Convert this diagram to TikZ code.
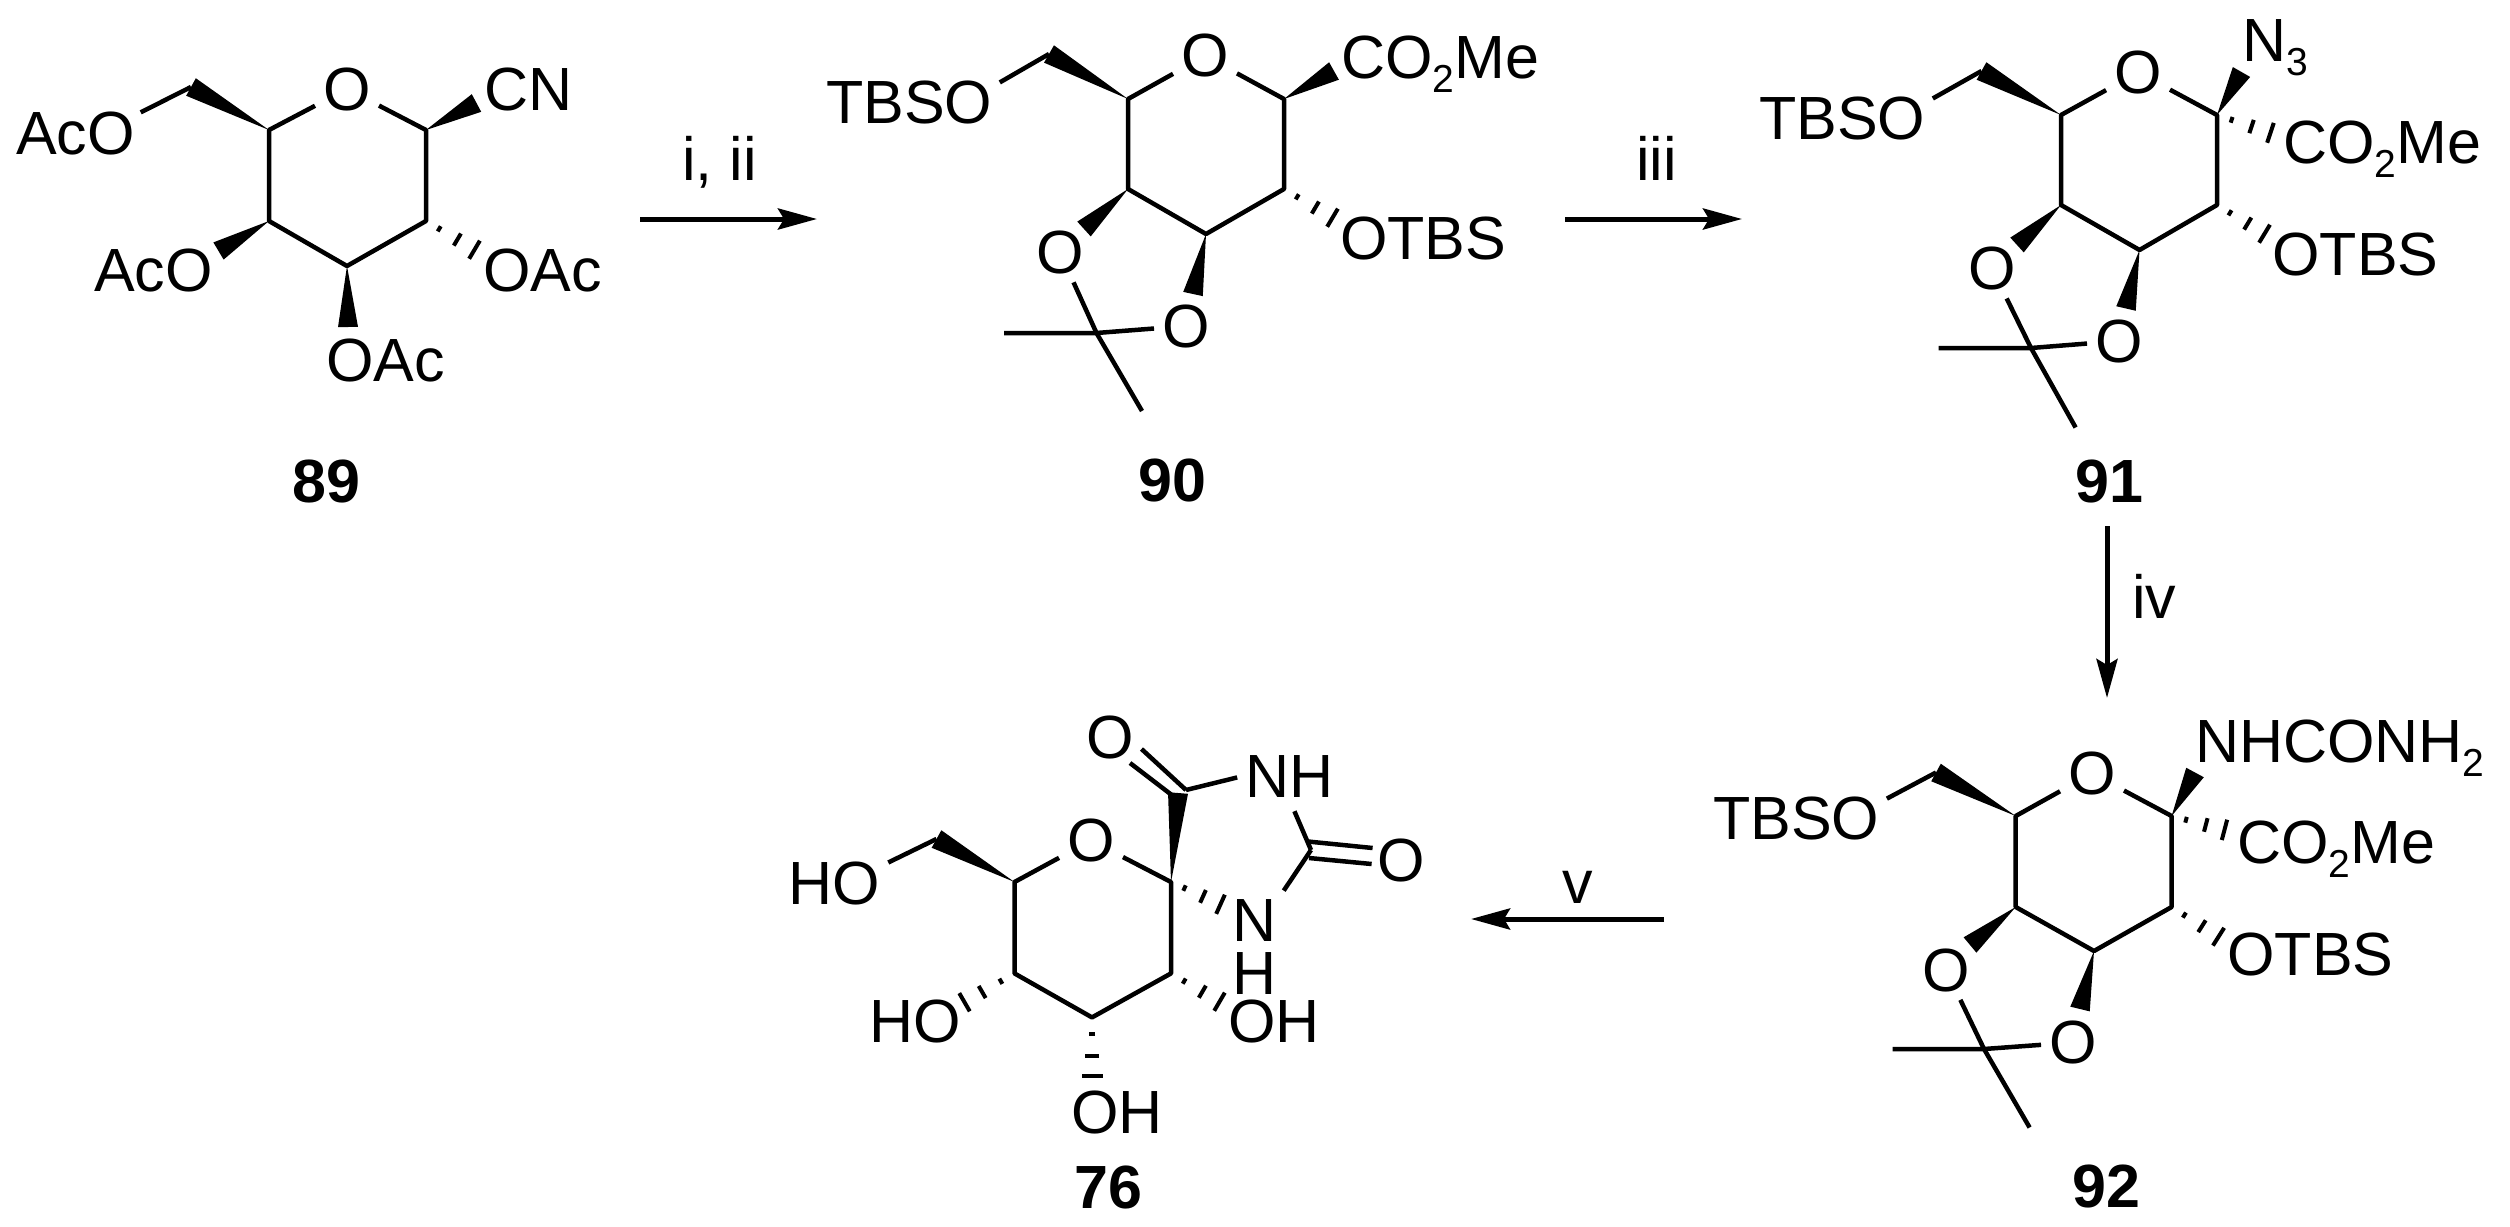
\documentclass[tikz,border=0pt]{standalone}
\usepackage{fontspec}
\setmainfont{Liberation Sans}
\usetikzlibrary{arrows.meta,calc}

\newcommand{\lowidx}[1]{\raisebox{-14.5pt}{\fontsize{39}{39}\selectfont #1}}
\newcommand{\wedgebond}[2]{\fill (#1) -- ($(#2)!10pt!90:(#1)$) -- ($(#2)!10pt!-90:(#1)$) -- cycle;}
\newcommand{\hashbond}[2]{\foreach \p/\w in {.27/3,.64/7,.99/10.5}
	\draw[line width=4pt] ($(#1)!\p!(#2)!\w pt!90:(#2)$) -- ($(#1)!\p!(#2)!\w pt!-90:(#2)$);}

\tikzset{
	lbl/.style={font=\fontsize{61}{53}\selectfont, inner sep=0pt, anchor=base west},
	num/.style={font=\fontsize{61}{53}\selectfont\bfseries, inner sep=0pt, anchor=base west},
	atomO/.style={font=\fontsize{61}{53}\selectfont, inner sep=6pt},
	rxn/.style={line width=5pt, -{Stealth[length=39pt,width=21pt,inset=6pt]}},
}

\begin{document}
\begin{tikzpicture}[x=1pt,y=-1pt,line width=4.5pt,line join=round]
	\useasboundingbox (0,0) rectangle (2510,1226);

	\draw (347,89) node[atomO] (oa) {O};
	\coordinate (a1) at (426,130);
	\coordinate (a2) at (426,221);
	\coordinate (a3) at (347,266);
	\coordinate (a4) at (269,221);
	\coordinate (a5) at (269,130);
	\coordinate (a6) at (191,87);
	\coordinate (a7) at (476.5,103);
	\coordinate (a8) at (218.5,251);
	\coordinate (a9) at (348,327);
	\coordinate (a10) at (475,250);
	\draw (14,154) node[lbl] (aco1) {AcO};
	\draw (482,110) node[lbl] (cn) {CN};
	\draw (481,291) node[lbl] (aco2) {OAc};
	\draw (92,291) node[lbl] (aco3) {AcO};
	\draw (324,381) node[lbl] (aco4) {OAc};
	\draw (290,502) node[num] (n89) {89};
	\draw (oa) -- (a1) -- (a2) -- (a3) -- (a4) -- (a5) -- (oa);
	\wedgebond{a5}{a6}
	\wedgebond{a1}{a7}
	\wedgebond{a4}{a8}
	\wedgebond{a3}{a9}
	\hashbond{a2}{a10}
	\draw[shorten >=4pt] (a6) -- (aco1.17);

	\coordinate (s1) at (640,219);
	\coordinate (s2) at (817,219);
	\draw[rxn] (s1) -- (s2);
	\draw (680,180) node[lbl] (r1) {i, ii};

	\draw (1205,56) node[atomO] (ob) {O};
	\coordinate (b1) at (1284,99);
	\coordinate (b2) at (1284,189);
	\coordinate (b3) at (1206,234);
	\coordinate (b4) at (1128,189);
	\coordinate (b5) at (1128,99);
	\coordinate (b6) at (1049,54);
	\coordinate (b7) at (1334,71);
	\coordinate (b8) at (1084,229);
	\coordinate (b9) at (1193,294);
	\coordinate (b10) at (1333,218);
	\coordinate (b11) at (1096.5,333);
	\coordinate (b12) at (1004,333);
	\coordinate (b13) at (1142,411);
	\draw (1060,252.5) node[atomO] (ob1) {O};
	\draw (1186,326) node[atomO] (ob2) {O};
	\draw (824,123) node[lbl] (tbs1) {TBSO};
	\draw (1339,78) node[lbl] (est1) {CO\lowidx{2}Me};
	\draw (1338,259) node[lbl] (tbs2) {OTBS};
	\draw (1136,501) node[num] (n90) {90};
	\draw (ob) -- (b1) -- (b2) -- (b3) -- (b4) -- (b5) -- (ob);
	\wedgebond{b5}{b6}
	\wedgebond{b1}{b7}
	\wedgebond{b4}{b8}
	\wedgebond{b3}{b9}
	\hashbond{b2}{b10}
	\draw[shorten >=6pt] (b6) -- (tbs1.11);
	\draw (ob1) -- (b11) -- (b13);
	\draw (b12) -- (b11) -- (ob2);

	\coordinate (s3) at (1565,219);
	\coordinate (s4) at (1742,219);
	\draw[rxn] (s3) -- (s4);
	\draw (1634,180) node[lbl] (r2) {iii};

	\draw (2138,72.5) node[atomO] (oc) {O};
	\coordinate (c1) at (2217,115);
	\coordinate (c2) at (2217,205);
	\coordinate (c3) at (2139.5,250);
	\coordinate (c4) at (2061,205);
	\coordinate (c5) at (2061,115);
	\coordinate (c6) at (1981.5,71);
	\coordinate (c7) at (2241.5,72);
	\coordinate (c8) at (2017,245);
	\coordinate (c9) at (2126,308.5);
	\coordinate (c10) at (2271,133);
	\coordinate (c14) at (2265,234);
	\coordinate (c11) at (2031,348);
	\coordinate (c12) at (1938.6,348);
	\coordinate (c13) at (2075.6,427.5);
	\draw (1992,268.6) node[atomO] (oc1) {O};
	\draw (2119,341) node[atomO] (oc2) {O};
	\draw (1757,139) node[lbl] (tbs3) {TBSO};
	\draw (2240,61) node[lbl] (azi) {N\lowidx{3}};
	\draw (2281,163) node[lbl] (est2) {CO\lowidx{2}Me};
	\draw (2270,275) node[lbl] (tbs4) {OTBS};
	\draw (2073,502) node[num] (n91) {91};
	\draw (oc) -- (c1) -- (c2) -- (c3) -- (c4) -- (c5) -- (oc);
	\wedgebond{c5}{c6}
	\wedgebond{c1}{c7}
	\wedgebond{c4}{c8}
	\wedgebond{c3}{c9}
	\hashbond{c1}{c10}
	\hashbond{c2}{c14}
	\draw[shorten >=6pt] (c6) -- (tbs3.11);
	\draw (oc1) -- (c11) -- (c13);
	\draw (c12) -- (c11) -- (oc2);

	\coordinate (s5) at (2107,526);
	\coordinate (s6) at (2107,698);
	\draw[rxn] (s5) -- (s6);
	\draw (2130,618) node[lbl] (r3) {iv};

	\draw (2092,773.5) node[atomO] (od) {O};
	\coordinate (d1) at (2171.6,816);
	\coordinate (d2) at (2171.6,907);
	\coordinate (d3) at (2094,951);
	\coordinate (d4) at (2015.7,907);
	\coordinate (d5) at (2015.7,816);
	\coordinate (d6) at (1936,772.5);
	\coordinate (d7) at (2195,772.5);
	\coordinate (d8) at (1970,945);
	\coordinate (d9) at (2080,1009);
	\coordinate (d10) at (2225,830);
	\coordinate (d14) at (2219,937);
	\coordinate (d11) at (1984,1049);
	\coordinate (d12) at (1892.5,1049);
	\coordinate (d13) at (2029.6,1127.5);
	\draw (1946,970) node[atomO] (od1) {O};
	\draw (2073,1042.5) node[atomO] (od2) {O};
	\draw (1711,839) node[lbl] (tbs5) {TBSO};
	\draw (2193,762) node[lbl] (urea) {NHCONH\lowidx{2}};
	\draw (2235,863) node[lbl] (est3) {CO\lowidx{2}Me};
	\draw (2225,975) node[lbl] (tbs6) {OTBS};
	\draw (2070,1207) node[num] (n92) {92};
	\draw (od) -- (d1) -- (d2) -- (d3) -- (d4) -- (d5) -- (od);
	\wedgebond{d5}{d6}
	\wedgebond{d1}{d7}
	\wedgebond{d4}{d8}
	\wedgebond{d3}{d9}
	\hashbond{d1}{d10}
	\hashbond{d2}{d14}
	\draw[shorten >=6pt] (d6) -- (tbs5.11);
	\draw (od1) -- (d11) -- (d13);
	\draw (d12) -- (d11) -- (od2);

	\coordinate (s7) at (1664,919);
	\coordinate (s8) at (1471,919);
	\draw[rxn] (s7) -- (s8);
	\draw (1560,903) node[lbl] (r4) {v};

	\draw (1091,840.5) node[atomO] (oe) {O};
	\coordinate (e1) at (1171,882);
	\coordinate (e2) at (1171,973.4);
	\coordinate (e3) at (1092,1017.4);
	\coordinate (e4) at (1014.5,973.4);
	\coordinate (e5) at (1014.5,882);
	\coordinate (e6) at (936.5,839);
	\coordinate (e7) at (1178,793);
	\coordinate (e8) at (1221,904.5);
	\coordinate (e9) at (1220,1002);
	\coordinate (e10) at (964,1002.5);
	\coordinate (e11) at (1092,1077);
	\coordinate (e12) at (1311,850);
	\coordinate (e13) at (1130,763);
	\coordinate (e14) at (1173.7,796.5);
	\coordinate (e15) at (1141.5,749);
	\coordinate (e16) at (1186,790);
	\coordinate (e17) at (1309,841.6);
	\coordinate (e18) at (1372.6,848);
	\coordinate (e19) at (1309,858);
	\coordinate (e20) at (1371.6,864);
	\draw (1110,737) node[atomO] (oe1) {O};
	\draw (1401.7,860.7) node[atomO] (oe2) {O};
	\draw (786,904) node[lbl] (ho1) {HO};
	\draw (1243,797) node[lbl] (nh1) {NH};
	\draw (1255,947) node[lbl,anchor=center,align=center] (nh2) {N\\H};
	\draw (867,1042) node[lbl] (ho2) {HO};
	\draw (1226,1042) node[lbl] (ho3) {OH};
	\draw (1069,1133) node[lbl] (ho4) {OH};
	\draw (1072,1208) node[num] (n76) {76};
	\draw (oe) -- (e1) -- (e2) -- (e3) -- (e4) -- (e5) -- (oe);
	\wedgebond{e5}{e6}
	\wedgebond{e1}{e7}
	\hashbond{e1}{e8}
	\hashbond{e2}{e9}
	\hashbond{e4}{e10}
	\hashbond{e3}{e11}
	\draw[shorten >=7pt] (e6) -- (ho1.20);
	\draw (e13) -- (e14);
	\draw (e15) -- (e16);
	\draw (e17) -- (e18);
	\draw (e19) -- (e20);
	\draw[shorten >=6pt] (e16) -- (nh1.west);
	\draw[shorten >=13pt] (e12) -- (nh1.south);
	\draw[shorten >=8pt] (e12) -- (nh2.north east);
\end{tikzpicture}
\end{document}
